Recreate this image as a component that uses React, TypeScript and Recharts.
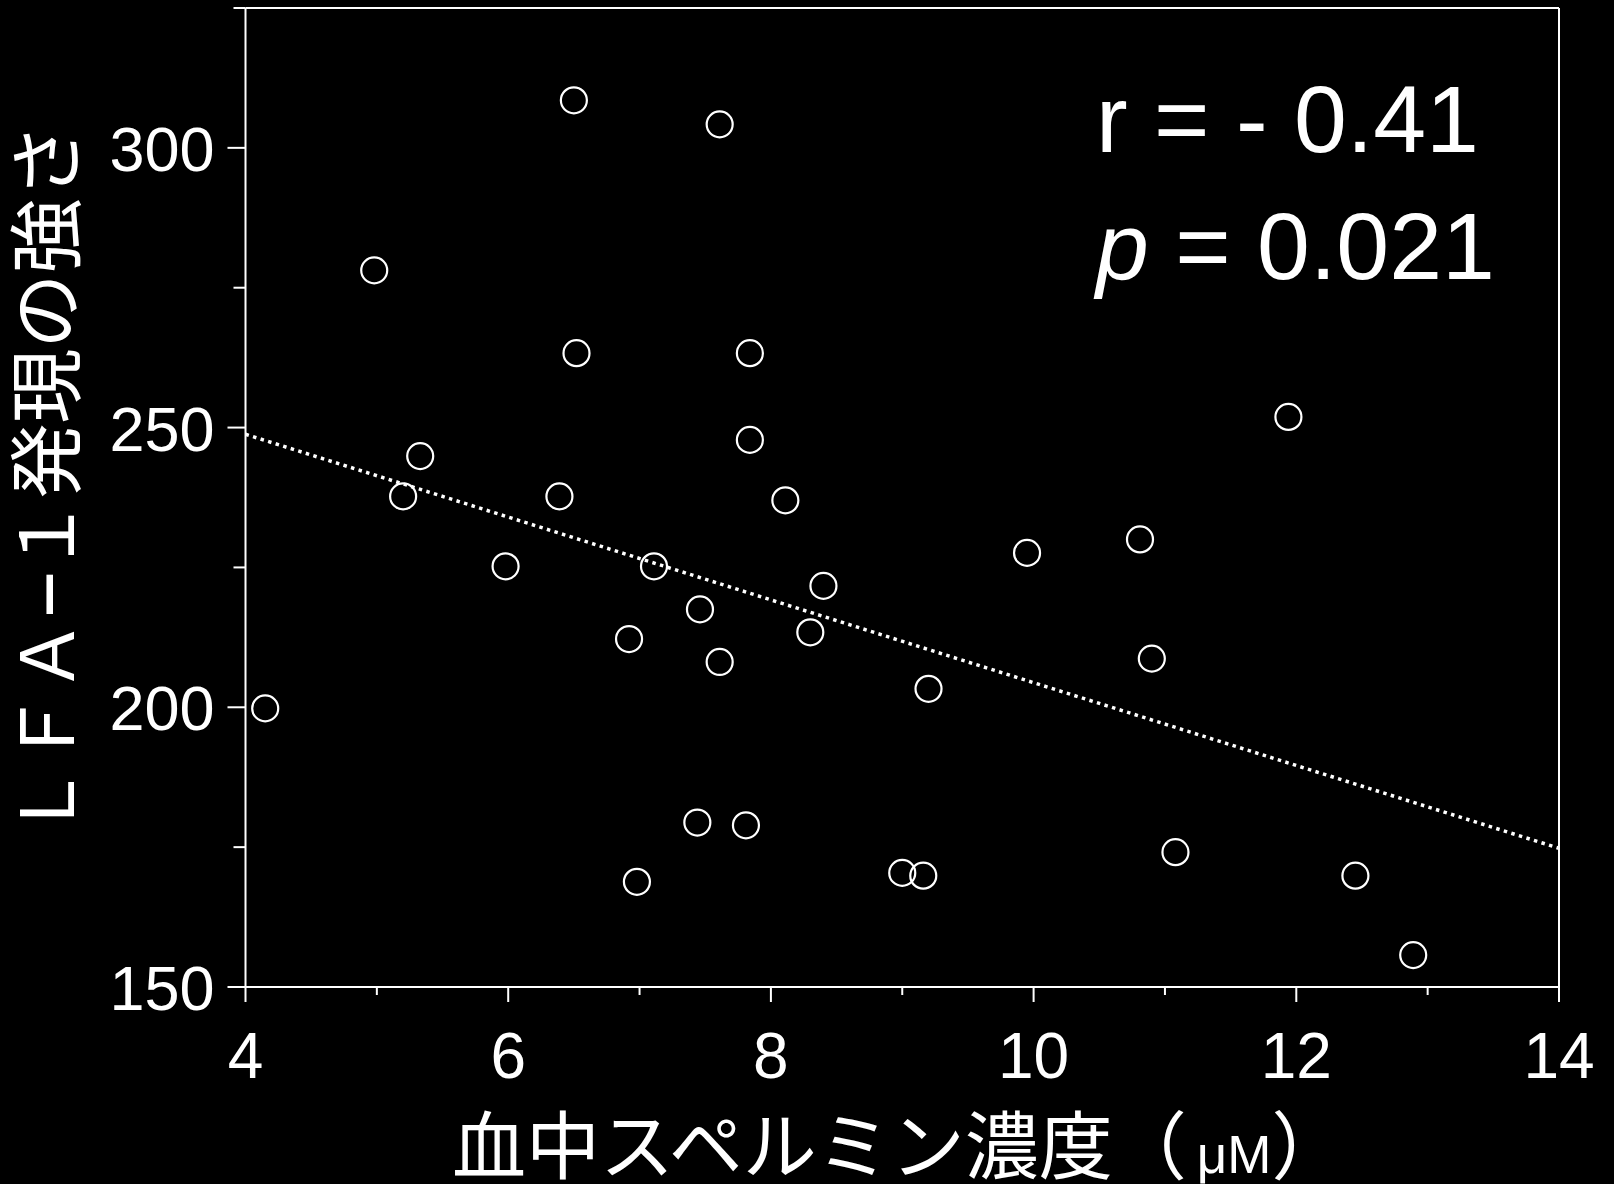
import React from "react";
import {
  ScatterChart,
  Scatter,
  XAxis,
  YAxis,
  ReferenceLine,
} from "recharts";

// data -----------------------------------------------------------------------
// 血中スペルミン濃度 (µM)
const spermine = [
  4.15, 4.98, 5.2, 5.33, 5.98, 6.39, 6.5, 6.52, 6.92, 6.98, 7.11, 7.46, 7.44,
  7.61, 7.61, 7.84, 7.84, 7.81, 8.11, 8.3, 8.4, 9.0, 9.16, 9.2, 9.95, 10.81,
  10.9, 11.08, 11.94, 12.45, 12.89,
];
// LFA-1 発現の強さ
const lfa1 = [
  199.8, 278.1, 237.7, 244.9, 225.2, 237.7, 308.5, 263.3, 212.2, 168.8, 225.2,
  217.5, 179.4, 304.2, 208.1, 263.3, 247.8, 178.9, 237.0, 213.4, 221.7, 170.4,
  169.9, 203.3, 227.6, 230.0, 208.7, 174.1, 251.9, 169.9, 155.7,
];
// regression line end points
const fitX = [4, 14];
const fitY = [248.8, 174.8];

const xTicks = [4, 5, 6, 7, 8, 9, 10, 11, 12, 13, 14];
const yTicks = [150, 175, 200, 225, 250, 275, 300, 325];
const xLabelTicks = [4, 6, 8, 10, 12, 14];
const yLabelTicks = [150, 200, 250, 300];

const statR = "r = - 0.41";
const statP = "= 0.021";

const points = spermine.map((x, i) => ({ x, y: lfa1[i] }));
const fitLine = fitX.map((x, i) => ({ x, y: fitY[i] }));

// styles ---------------------------------------------------------------------
const W = 1614;
const H = 1184;
const WHITE = "#ffffff";
const LATIN = "'Liberation Sans', Arial, Helvetica, sans-serif";
const CJK = "'Noto Sans CJK JP', 'Noto Sans CJK SC', sans-serif";

const XTick = (props: any) => {
  const { x, y, payload } = props;
  const major = xLabelTicks.includes(payload.value);
  return (
    <g>
      <line x1={x} y1={y} x2={x} y2={y + (major ? 15 : 8)} stroke={WHITE} strokeWidth={2} />
      {major && (
        <text x={x} y={y + 91} textAnchor="middle" fill={WHITE} fontSize={64} fontFamily={LATIN}>
          {payload.value}
        </text>
      )}
    </g>
  );
};

const YTick = (props: any) => {
  const { x, y, payload } = props;
  const major = yLabelTicks.includes(payload.value);
  return (
    <g>
      <line x1={x} y1={y} x2={x - (major ? 18 : 12)} y2={y} stroke={WHITE} strokeWidth={2} />
      {major && (
        <text x={x - 31} y={y + 23} textAnchor="end" fill={WHITE} fontSize={63} fontFamily={LATIN}>
          {payload.value}
        </text>
      )}
    </g>
  );
};

const Ring = (props: any) => (
  <circle cx={props.cx} cy={props.cy} r={13} fill="none" stroke={WHITE} strokeWidth={2.2} />
);

const App: React.FC = () => {
  return (
    <div style={{ position: "absolute", left: 0, top: 0, width: W, height: H, background: "#000", overflow: "hidden" }}>
      <ScatterChart width={W} height={H} margin={{ top: 8, right: 55, bottom: 0, left: 0 }}>
        <XAxis
          type="number"
          dataKey="x"
          domain={[4, 14]}
          ticks={xTicks}
          interval={0}
          height={197}
          tickSize={0}
          tickMargin={0}
          tickLine={false}
          axisLine={{ stroke: WHITE, strokeWidth: 2 }}
          tick={<XTick />}
          allowDataOverflow
        />
        <YAxis
          type="number"
          dataKey="y"
          domain={[150, 325]}
          ticks={yTicks}
          interval={0}
          width={245.5}
          tickSize={0}
          tickMargin={0}
          tickLine={false}
          axisLine={{ stroke: WHITE, strokeWidth: 2 }}
          tick={<YTick />}
          allowDataOverflow
        />
        <ReferenceLine y={325} stroke={WHITE} strokeWidth={2} />
        <ReferenceLine x={14} stroke={WHITE} strokeWidth={2} />
        <Scatter
          data={fitLine}
          line={{ stroke: WHITE, strokeWidth: 3.5, strokeDasharray: "3.5 4.4" }}
          lineType="joint"
          shape={() => <g />}
          isAnimationActive={false}
        />
        <Scatter data={points} shape={<Ring />} isAnimationActive={false} />
      </ScatterChart>

      {/* titles and stats */}
      <svg width={W} height={H} style={{ position: "absolute", left: 0, top: 0, pointerEvents: "none" }}>
        {/* y title, rotated: x' runs upward (x' = -screenY), y' is screen x */}
        <text transform="rotate(-90)" y={74} fill={WHITE} fontSize={73} fontFamily={CJK}>
          <tspan x={-838.5}>ＬＦＡ</tspan>
          <tspan x={-613} dy={-7} fontFamily={LATIN} fontSize={67} stroke={WHITE} strokeWidth={2}>
            –
          </tspan>
          <tspan x={-573.5} dy={7} fontSize={75}>１発現の強さ</tspan>
        </text>
        <text x={452} y={1173} fill={WHITE} fontSize={74} fontFamily={CJK}>
          血中スペルミン濃度（
          <tspan dx={10} fontFamily={LATIN} fontSize={53}>
            μM
          </tspan>
          <tspan dx={0}>）</tspan>
        </text>
        <text x={1096} y={152} fill={WHITE} fontSize={95} fontFamily={LATIN}>
          {statR}
        </text>
        <text x={1096} y={279} fill={WHITE} fontSize={95} fontFamily={LATIN}>
          <tspan fontStyle="italic">p</tspan> {statP}
        </text>
      </svg>
    </div>
  );
};

export default App;
